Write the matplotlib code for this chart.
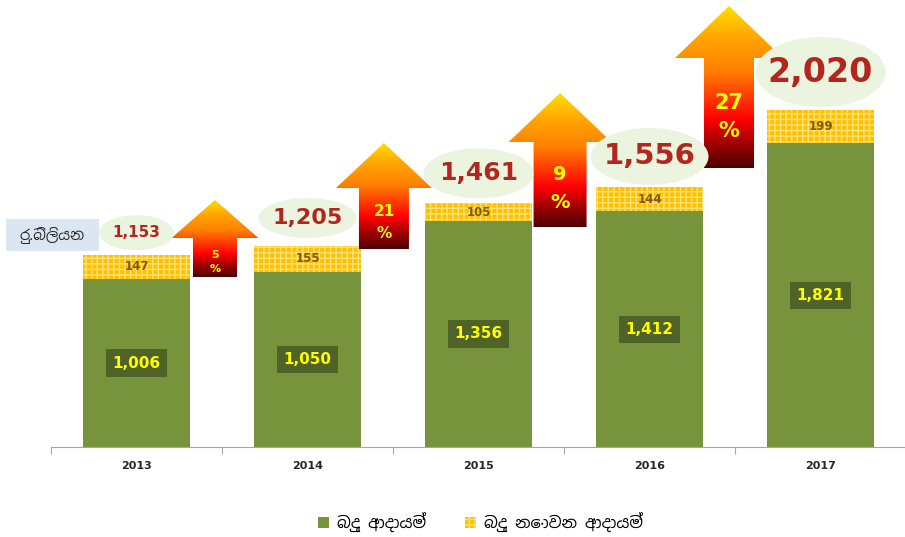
import numpy as np
import matplotlib.pyplot as plt
from matplotlib import font_manager
from matplotlib.patches import Ellipse, Polygon, Rectangle, Patch
from matplotlib.colors import LinearSegmentedColormap

# data
years = ['2013', '2014', '2015', '2016', '2017']
tax = [1006, 1050, 1356, 1412, 1821]
non_tax = [147, 155, 105, 144, 199]
totals = [1153, 1205, 1461, 1556, 2020]
growth = ['5', '21', '9', '27']
unit_label = 'රු.බිලියන'
legend_labels = ['බදු ආදායම්', 'බදු නොවන ආදායම්']

# font for sinhala text, if any is installed
sinhala = [f.name for f in font_manager.fontManager.ttflist
           if 'Sinhala' in f.name or 'Iskoola' in f.name]
si_fams = sinhala[:1] + ['DejaVu Sans']

GREEN = '#77933C'
YELLOW = '#FFC000'
HATCH = '#FFE27A'
RED_TXT = '#B3261E'

fig = plt.figure(figsize=(9.05, 5.37), dpi=100)
ax = fig.add_axes([51 / 905, 90 / 537, 855 / 905, 447 / 537])
YMAX = 2680
px_x = 855 / 5          # pixels per category
px_y = 447 / YMAX       # pixels per unit

x = np.arange(len(years))
ax.bar(x, tax, width=0.63, color=GREEN, zorder=2)
ax.bar(x, non_tax, bottom=tax, width=0.63, color=YELLOW, edgecolor=HATCH,
       hatch='+++', linewidth=0, zorder=2)

for i in range(len(years)):
    ax.text(i, tax[i] / 2, f'{tax[i]:,}', ha='center', va='center', color='#FFFF00',
            fontsize=11, fontweight='bold', zorder=4,
            bbox=dict(boxstyle='square,pad=0.4', fc='#4F6228', ec='none'))
    ax.text(i, tax[i] + non_tax[i] / 2, str(non_tax[i]), ha='center', va='center',
            color='#7F5A00', fontsize=8.5, fontweight='bold', zorder=4)

# growth arrows (layout in pixels of the original)
arr_cx = [0.459, 1.447, 2.477, 3.465]
arr_head = [43.5, 48, 51.5, 54]
arr_shaft = [22, 25, 26.5, 25]
arr_tip = [200, 143, 93, 6]
arr_base = [238, 188, 142, 58]
arr_bot = [277, 249, 227, 168]
pct_size = [8, 11, 14, 15]
pct_gap = [1.5, 1.5, 1.55, 1.55]

cmap = LinearSegmentedColormap.from_list('arrow', [
    (0.0, '#4D0000'), (0.15, '#A00000'), (0.3, '#FF0000'), (0.45, '#FF4000'),
    (0.6, '#FF8000'), (0.8, '#FFA500'), (1.0, '#FFE000')])
grad = np.linspace(0, 1, 256).reshape(-1, 1)

def ypx(p):
    return (447 - p) / px_y

for k in range(len(growth)):
    cx = arr_cx[k]
    hw = arr_head[k] / px_x
    sw = arr_shaft[k] / px_x
    tip, base, bot = ypx(arr_tip[k]), ypx(arr_base[k]), ypx(arr_bot[k])
    verts = [(cx, tip), (cx + hw, base), (cx + sw, base), (cx + sw, bot),
             (cx - sw, bot), (cx - sw, base), (cx - hw, base)]
    poly = Polygon(verts, closed=True, fc='none', ec='none', zorder=3)
    ax.add_patch(poly)
    im = ax.imshow(grad, extent=[cx - hw, cx + hw, bot, tip], origin='lower',
                   aspect='auto', cmap=cmap, zorder=3, interpolation='bilinear')
    im.set_clip_path(poly)
    mid = ypx((arr_base[k] + arr_bot[k]) / 2 + (4 if k else 5))
    ax.text(cx, mid, growth[k] + '\n%', ha='center', va='center', color='#FFFF00',
            fontsize=pct_size[k], fontweight='bold', linespacing=pct_gap[k], zorder=4)

# totals in ellipses
tot_off = [22, 28, 30, 31, 38]
ell_w = [75, 98, 110, 118, 130]
ell_h = [35, 40, 50, 57, 70]
tot_size = [11, 16, 18, 21, 24]
for i in range(len(years)):
    yc = totals[i] + tot_off[i] / px_y
    ax.add_patch(Ellipse((i, yc), ell_w[i] / px_x, ell_h[i] / px_y,
                         fc='#EAF4DE', ec='none', zorder=5))
    ax.text(i, yc, f'{totals[i]:,}', ha='center', va='center', color=RED_TXT,
            fontsize=tot_size[i], fontweight='bold', zorder=6)

ax.set_xlim(-0.5, len(years) - 0.5)
ax.set_ylim(0, YMAX)
ax.set_yticks([])
for s in ['left', 'top', 'right']:
    ax.spines[s].set_visible(False)
ax.spines['bottom'].set_color('#A6A6A6')
ax.set_xticks(np.arange(-0.5, len(years), 1))
ax.set_xticklabels([])
ax.tick_params(axis='x', which='major', length=5, color='#A6A6A6')
ax.set_xticks(x, minor=True)
ax.set_xticklabels(years, minor=True, fontsize=8, fontweight='bold', color='#262626')
ax.tick_params(axis='x', which='minor', length=0, pad=10)

# unit label
fig.patches.append(Rectangle((6 / 905, 1 - 251 / 537), 93 / 905, 32 / 537,
                             transform=fig.transFigure, fc='#DCE6F2', ec='none'))
fig.text(52 / 905, 1 - 235 / 537, unit_label, ha='center', va='center',
         fontsize=10.5, color='#262626', family=si_fams)

handles = [Patch(fc=GREEN, ec='none'),
           Patch(fc=YELLOW, ec=HATCH, hatch='+++', lw=0)]
fig.legend(handles, legend_labels, loc='center', bbox_to_anchor=(0.531, 0.028),
           ncol=2, frameon=False, handlelength=0.7, handleheight=0.7,
           handletextpad=0.5, columnspacing=2.4, prop={'family': si_fams, 'size': 11.5})

fig.savefig('out.png', dpi=100)
